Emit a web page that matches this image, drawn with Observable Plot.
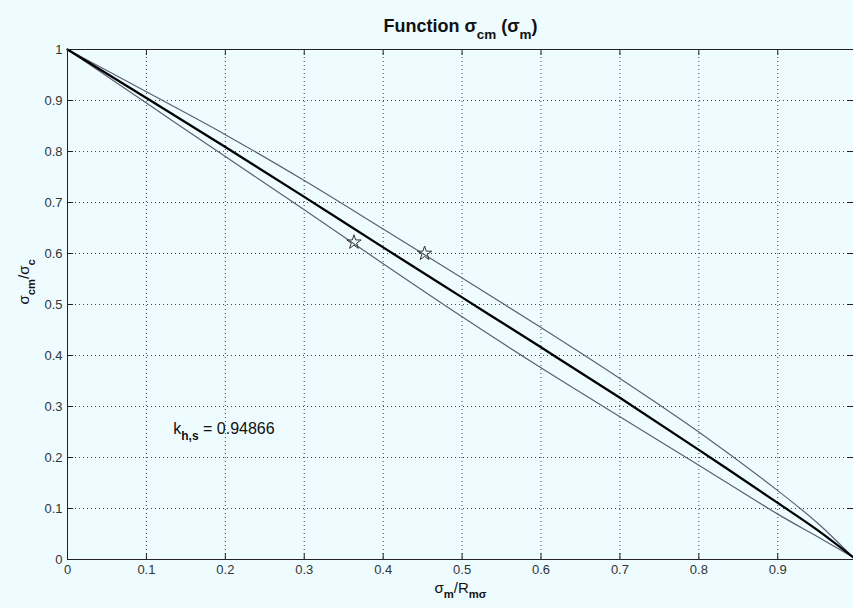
<!DOCTYPE html>
<html><head><meta charset="utf-8">
<script src="https://cdn.jsdelivr.net/npm/d3@7"></script>
<script src="https://cdn.jsdelivr.net/npm/@observablehq/plot@0.6"></script>
<style>
html,body{margin:0;padding:0;background:#eefcff;}
#chart svg{display:block;}
</style></head><body><div id="chart"></div>
<script>
// Data
const xs     = [0, 0.1,   0.2,   0.3,   0.4,   0.5,   0.6,   0.7,   0.8,   0.9,   0.95,  0.995];
const middle = [1, 0.905, 0.809, 0.711, 0.612, 0.514, 0.416, 0.317, 0.215, 0.111, 0.058, 0.005];
const upper  = [1, 0.917, 0.833, 0.743, 0.648, 0.552, 0.455, 0.355, 0.25,  0.135, 0.072, 0.005];
const lower  = [1, 0.895, 0.79,  0.686, 0.58,  0.476, 0.376, 0.28,  0.185, 0.089, 0.045, 0.005];
const starX = [0.363, 0.4525];
const starY = [0.622, 0.6];
const xTicks = [0, 0.1, 0.2, 0.3, 0.4, 0.5, 0.6, 0.7, 0.8, 0.9];
const yTicks = [0, 0.1, 0.2, 0.3, 0.4, 0.5, 0.6, 0.7, 0.8, 0.9, 1];
const titleParts  = [["Function σ", 0], ["cm", 1], [" (σ", 0], ["m", 1], [")", 0]];
const xLabelParts = [["σ", 0], ["m", 1], ["/R", 0], ["mσ", 1]];
const yLabelParts = [["σ", 0], ["cm", 1], ["/σ", 0], ["c", 1]];
const annotParts  = [["k", 0], ["h,s", 1], [" = 0.94866", 0]];
const annotX = 0.134, annotY = 0.256;

const thin = xs.flatMap((x, i) => [
  {x, y: upper[i], s: "upper"},
  {x, y: lower[i], s: "lower"}
]);
const thick = xs.map((x, i) => ({x, y: middle[i]}));
const stars = starX.map((x, i) => ({x, y: starY[i]}));
const join = parts => parts.map(p => p[0]).join("");

const plotH = 608 - 49 - 49, plotW = 853 - 67;
const gridStyle = {stroke: "#1c2433", strokeOpacity: 0.85, strokeDasharray: "1,3"};
const tickStyle = {stroke: "#222"};

const svg = Plot.plot({
  width: 853, height: 608,
  marginTop: 49, marginBottom: 49, marginLeft: 67, marginRight: 0,
  x: {domain: [0, 0.996]},
  y: {domain: [0, 1]},
  style: {background: "#eefcff", fontFamily: "'Liberation Sans', Arial, sans-serif", color: "#222"},
  marks: [
    Plot.gridX(xTicks, gridStyle),
    Plot.gridY(yTicks, gridStyle),
    Plot.line(thin, {x: "x", y: "y", z: "s", stroke: "#596070", strokeWidth: 1.2, curve: "catmull-rom"}),
    Plot.line(thick, {x: "x", y: "y", stroke: "#000", strokeWidth: 2.3, curve: "catmull-rom"}),
    Plot.dot(stars, {x: "x", y: "y", symbol: "star", r: 4.5, stroke: "#333", fill: "none", strokeWidth: 1}),
    Plot.frame({stroke: "#222"}),
    Plot.ruleX(xTicks, {...tickStyle, insetTop: plotH - 6}),
    Plot.ruleX(xTicks, {...tickStyle, insetBottom: plotH - 6}),
    Plot.ruleY(yTicks, {...tickStyle, insetRight: plotW - 6}),
    Plot.ruleY(yTicks, {...tickStyle, insetLeft: plotW - 6}),
    Plot.axisX({ticks: xTicks, tickSize: 0, tickPadding: 5, tickFormat: d => String(d), fontSize: 13, fill: "#333", label: null}),
    Plot.axisY({ticks: yTicks, tickSize: 0, tickPadding: 5, tickFormat: d => String(d), fontSize: 13, fill: "#333", label: null}),
    Plot.text([join(titleParts)], {frameAnchor: "top", dy: -30, fontSize: 18, fontWeight: "bold", fill: "#111"}),
    Plot.text([join(xLabelParts)], {frameAnchor: "bottom", dy: 33, fontSize: 15, fill: "#111"}),
    Plot.text([join(yLabelParts)], {frameAnchor: "left", dx: -43, rotate: -90, fontSize: 15, fill: "#111"}),
    Plot.text([join(annotParts)], {x: annotX, y: annotY, textAnchor: "start", fontSize: 16, fill: "#111"})
  ]
});

function subscript(parts, size, subBold) {
  const full = join(parts);
  const t = d3.select(svg).selectAll("text").filter(function() { return this.textContent === full; });
  if (t.empty()) return;
  t.text(null);
  const shift = size * 0.38;
  let down = false;
  parts.forEach(([s, sub]) => {
    const ts = t.append("tspan").text(s);
    if (sub) {
      ts.attr("font-size", size * 0.75);
      if (subBold) ts.attr("font-weight", "bold");
      if (!down) { ts.attr("dy", shift); down = true; }
    } else if (down) {
      ts.attr("dy", -shift); down = false;
    }
  });
}
subscript(titleParts, 18, false);
subscript(xLabelParts, 15, true);
subscript(yLabelParts, 15, true);
subscript(annotParts, 16, true);

document.getElementById("chart").appendChild(svg);
</script></body></html>
